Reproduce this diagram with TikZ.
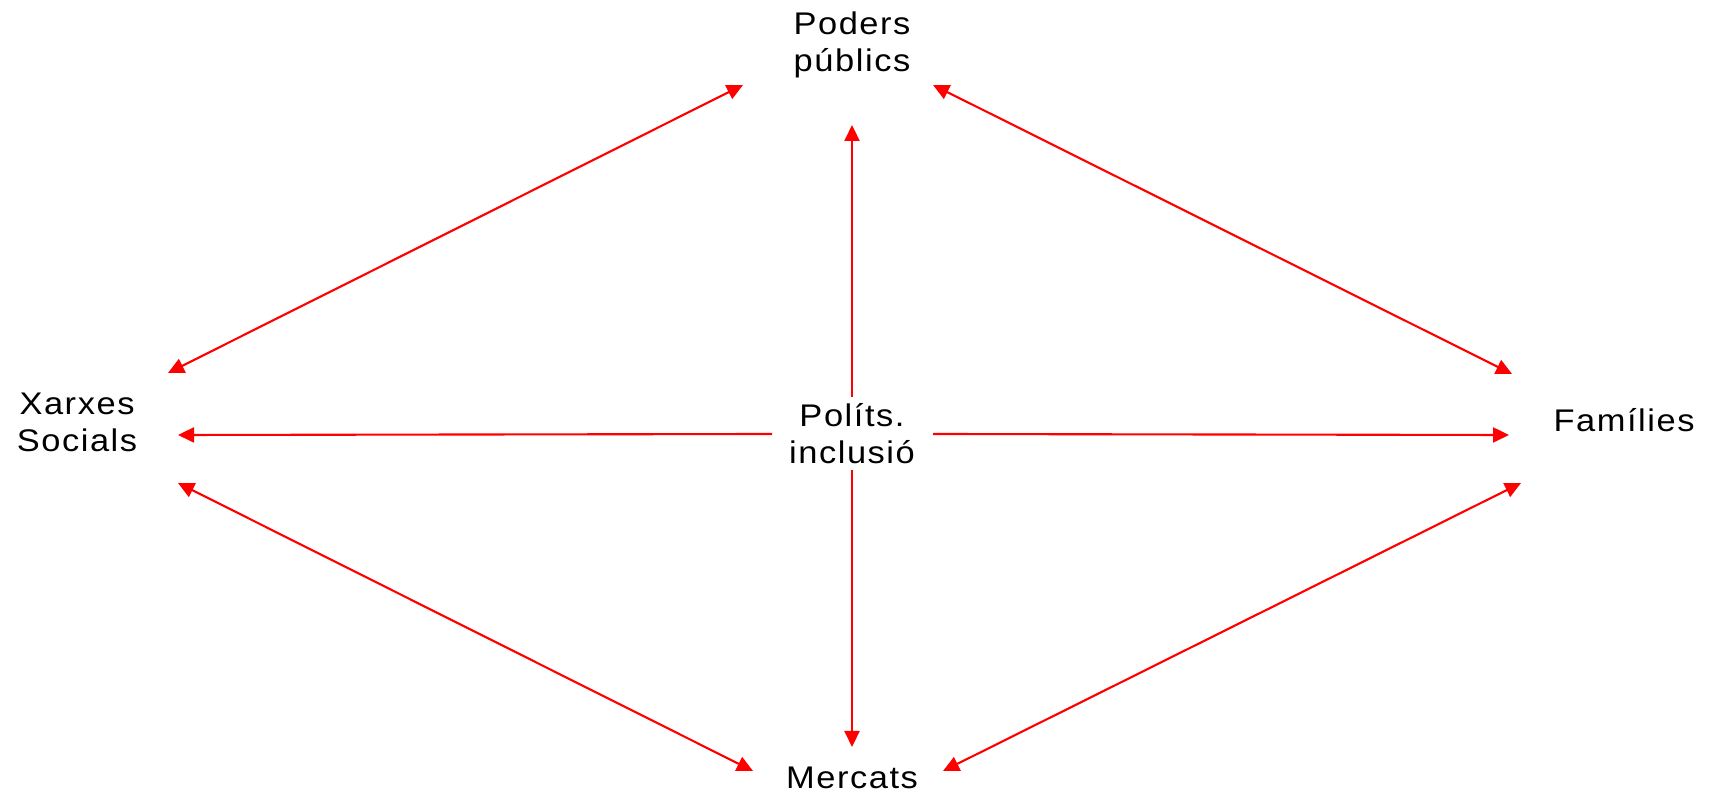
\documentclass[tikz,border=0pt]{standalone}
\usepackage{fontspec}
\setmainfont[FakeStretch=1.1,LetterSpace=5]{Liberation Sans}
\usetikzlibrary{arrows.meta}

\begin{document}
\begin{tikzpicture}[x=0.01cm,y=-0.01cm,
    actor/.style={align=center,inner sep=0pt,font=\fontsize{8.9}{10.5}\selectfont},
    link/.style={red,line width=0.6pt,-{Triangle[length=0.16cm,width=0.15cm]}},
    both/.style={link,{Triangle[length=0.16cm,width=0.15cm]}-{Triangle[length=0.16cm,width=0.15cm]}}]
    \useasboundingbox (0,0) rectangle (1725,795);
    \node[actor] (pub) at (852,45) {Poders\\públics};
    \node[actor] (pol) at (852,434) {Políts.\\inclusió};
    \node[actor] (xar) at (77,422) {Xarxes\\Socials};
    \node[actor] (fam) at (1624,420) {Famílies};
    \node[actor] (mer) at (852,778) {Mercats};
    % diagonals
    \draw[both] ([shift={(91,-49)}]xar.center) -- ([shift={(-109,40)}]pub.center);
    \draw[both] ([shift={(81,40)}]pub.center) -- ([shift={(-112,-46)}]fam.center);
    \draw[both] ([shift={(101,61)}]xar.center) -- ([shift={(-99,-7)}]mer.center);
    \draw[both] ([shift={(91,-7)}]mer.center) -- ([shift={(-103,63)}]fam.center);
    % from the centre
    \draw[link] ([shift={(0,-37)}]pol.center) -- ([shift={(0,80)}]pub.center);
    \draw[link] ([shift={(0,36)}]pol.center) -- ([shift={(0,-31)}]mer.center);
    \draw[link] ([shift={(-80,0)}]pol.center) -- ([shift={(101,13)}]xar.center);
    \draw[link] ([shift={(81,0)}]pol.center) -- ([shift={(-115,15)}]fam.center);
\end{tikzpicture}
\end{document}
